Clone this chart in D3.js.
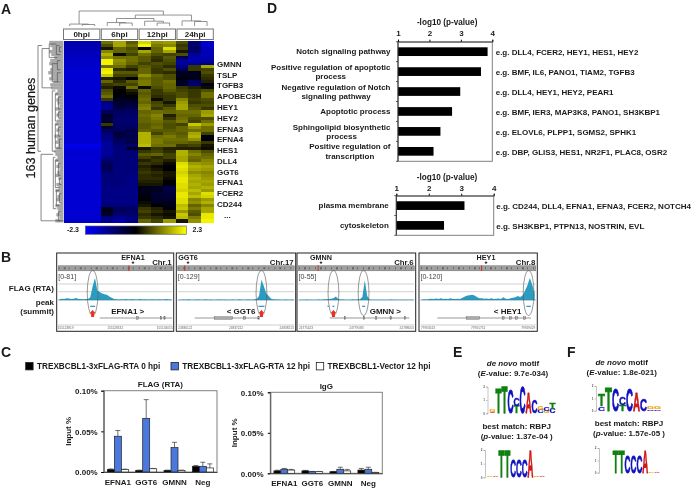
<!DOCTYPE html>
<html>
<head>
<meta charset="utf-8">
<style>
html, body { margin: 0; padding: 0; background: #fff; }
svg { display: block; filter: blur(.3px); }
text { font-family: "Liberation Sans", Arial, sans-serif; font-weight: bold; fill: #1a1a1a; }
</style>
<script src="https://cdn.jsdelivr.net/npm/d3@7/dist/d3.min.js"></script>
</head>
<body>
<script>
// ---- panel A data ----
var hpiGroups = ["0hpi", "6hpi", "12hpi", "24hpi"];
var heatGenes = ["GMNN", "TSLP", "TGFB3", "APOBEC3H", "HEY1", "HEY2", "EFNA3", "EFNA4", "HES1", "DLL4", "GGT6", "EFNA1", "FCER2", "CD244", "..."];
var colorTicks = [-2.3, 2.3];
// 0hpi columns are nearly flat, one value per row block
var zeroHpi = [-1.6,-1.6,-1.6,-1.7,-1.7,-1.7,-1.8,-1.8,-1.8,-1.9,-1.9,-1.9,-1.9,-1.9,-1.9,-1.9,-1.9,-1.9,-1.9,-1.9,
  -1.9,-1.9,-1.9,-1.9,-1.9,-1.9,-1.9,-1.9,-1.9,-1.9,-1.9,-1.9,-1.9,-1.9,-2.1,-2.0,-1.9,-1.9,-1.9,-1.9,
  -1.9,-1.9,-1.9,-1.9,-1.9,-1.9,-1.9,-1.9,-1.9,-1.9,-1.9,-1.9,-1.9,-1.9,-1.9,-1.9,-1.9,-1.9,-1.9,-1.8];
// 6hpi x3, 12hpi x3, 24hpi x3
var heatRows = [
  [1.0,1.5,0.8,1.9,1.3,1.4,0.7,-1.0,-1.8],
  [0.7,1.5,1.0,2.2,1.1,1.2,0.5,-1.0,-1.8],
  [0.2,0.9,0.7,0.0,0.9,2.0,0.6,-0.9,-1.7],
  [1.2,0.9,0.8,1.5,0.9,1.5,0.2,-1.0,-1.6],
  [1.6,0.1,0.6,1.0,0.7,0.6,0.7,-1.4,-1.7],
  [1.3,1.0,1.0,0.8,0.5,0.8,-0.7,-1.5,-1.6],
  [2.2,1.3,1.0,0.8,0.4,0.7,-1.4,-1.6,-1.5],
  [2.2,1.2,0.9,0.6,0.7,0.6,-1.4,-1.4,-1.2],
  [1.0,1.0,0.6,0.8,0.6,0.4,-1.2,0.5,1.5],
  [2.1,0.4,0.3,0.9,0.5,0.7,-0.8,0.5,0.6],
  [2.2,0.8,0.8,0.9,0.5,0.4,-0.3,-0.2,0.7],
  [1.8,0.6,0.6,1.3,0.9,0.7,-0.3,-0.3,0.5],
  [0.3,0.2,0.0,1.0,0.8,0.7,-0.1,-0.2,0.4],
  [0.9,0.4,0.8,1.1,0.8,1.0,-0.3,-0.9,0.3],
  [0.5,0.6,0.6,1.1,0.8,0.9,-0.4,-1.0,-0.3],
  [0.3,0.1,1.0,0.1,0.7,0.9,0.5,0.3,0.1],
  [0.7,-0.1,0.3,0.9,0.5,0.8,0.6,0.5,0.7],
  [0.8,0.0,0.1,0.8,0.5,0.6,0.7,0.5,1.0],
  [1.0,-0.1,-0.1,0.9,0.4,0.5,0.7,0.5,1.0],
  [0.5,-0.3,-0.2,1.0,0.1,0.5,1.2,0.6,0.7],
  [-1.2,-0.4,-0.4,0.9,0.6,0.2,1.4,0.5,0.6],
  [-1.3,-0.5,-0.6,1.1,0.7,0.5,1.5,0.7,0.7],
  [-1.3,-0.6,-0.7,1.2,0.5,0.8,1.5,0.8,0.5],
  [-0.8,-0.9,-0.9,0.9,1.0,0.9,1.0,1.0,1.4],
  [-0.4,-0.9,-0.9,1.0,1.2,0.3,0.9,0.9,1.5],
  [-0.5,-1.0,-1.0,0.9,1.1,0.5,1.0,0.7,0.7],
  [-0.4,-1.0,-1.0,0.9,1.0,0.8,1.1,0.6,1.0],
  [0.5,-0.9,-0.9,0.8,0.9,0.7,0.6,1.8,1.4],
  [-0.4,-0.9,-0.9,0.8,1.0,0.7,0.9,1.3,1.0],
  [-0.9,-0.8,-0.6,0.9,0.8,0.8,0.9,1.0,1.0],
  [-1.0,-0.5,-0.8,1.6,0.6,0.9,0.8,1.5,0.6],
  [-1.2,-0.6,-0.6,1.6,1.0,1.1,0.9,1.6,-0.2],
  [-1.2,-0.8,-0.8,1.6,1.1,1.0,1.0,1.3,-0.1],
  [-1.4,-0.9,-0.6,1.6,1.1,0.9,0.9,0.8,0.5],
  [-1.4,-1.0,-1.0,1.7,1.0,1.0,0.5,0.6,0.2],
  [-1.4,-1.1,-0.3,0.2,0.5,0.3,0.3,0.3,0.1],
  [-1.4,-1.1,-1.1,0.5,0.6,0.4,1.6,1.0,0.7],
  [-1.4,-1.1,-1.1,0.8,0.9,0.6,1.6,1.2,0.9],
  [-1.2,-1.1,-1.1,0.6,0.4,0.6,1.5,1.0,1.0],
  [-1.0,-1.1,-1.1,0.3,0.5,0.3,1.5,0.9,1.2],
  [-0.8,-1.1,-1.1,0.5,0.4,0.1,2.0,1.4,1.3],
  [-0.7,-1.1,-1.1,0.3,0.1,-0.1,2.1,1.6,1.5],
  [-0.8,-1.1,-1.1,0.4,0.2,0.0,2.0,1.5,1.4],
  [-1.0,-1.1,-1.1,0.5,0.4,0.2,1.9,1.3,1.2],
  [-1.1,-1.1,-1.2,0.4,0.3,0.2,2.0,1.5,1.3],
  [-1.1,-1.1,-1.2,0.4,0.4,0.1,2.1,1.6,1.4],
  [-1.1,-1.1,-1.2,0.3,0.3,0.0,2.1,1.5,1.5],
  [-1.1,-1.1,-1.2,0.2,0.2,-0.1,2.0,1.6,1.4],
  [-1.2,-1.2,-1.2,-0.2,-0.3,-0.6,2.0,1.5,1.6],
  [-1.2,-1.2,-1.2,-0.2,-0.3,-0.6,1.9,1.7,1.4],
  [-1.2,-1.2,-1.2,-0.2,-0.5,-0.5,2.1,1.5,2.0],
  [-1.2,-1.2,-1.2,-0.1,-0.4,-0.5,2.1,1.7,1.9],
  [-1.2,-1.2,-1.2,-0.1,-0.4,-0.4,2.0,1.2,1.4],
  [-1.2,-1.2,-1.2,0.1,-0.3,-0.2,2.0,1.3,1.6],
  [-1.1,-1.1,-1.1,0.2,0.0,-0.2,1.7,0.9,1.2],
  [-0.3,-0.8,-0.9,0.5,0.3,-0.1,1.8,1.1,1.5],
  [-0.2,-0.8,-0.9,0.6,0.4,0.2,1.4,0.8,1.5],
  [-0.4,-1.0,-1.0,0.4,0.2,0.1,1.8,0.7,2.1],
  [-1.1,-1.3,-1.1,0.5,0.4,0.2,1.7,1.1,2.1],
  [-1.3,-1.5,-1.2,0.9,0.6,1.4,0.2,1.3,2.2]
];
// column tree: [height, left, right], leaves are column numbers
var columnTree = [1, [0.13, 0, [0.1, 1, 2]],
  [0.73, [0.5, [0.23, 3, [0.2, 4, 5]], [0.32, 6, [0.2, 7, 8]]], [0.34, 9, [0.3, 10, 11]]]];
// row brackets: depth, first row, last row, depth of first child, depth of last child
var rowLinks = [
  [25,1,36,21,22],[22,37,59,10,0],[21,2,15,14,11],[14,0.5,5,7,6],[11,7,13,6,6],
  [7,1,4,4,3],[6,6,9,3,3],[6,10,13,3,4],[4,1.5,3,2,2],
  [11,16,36,8,8],[8,17,26,5,5],[8,27,35,5,4],[5,18,22,3,3],[5,23,25,3,3],[5,28,31,3,3],[4,32,35,2,2],
  [10,38,55,8,7],[8,39,48,5,4],[7,49,54,4,4],[5,40,44,3,3],[4,45,47,2,2],[4,50,53,2,2],[5,56,59,3,3]
];
var rowLeaf = [14,13,11,14,12,9,13,14,11,13,15,12,14,10,13,12,6,8,5,7,
  6,4,8,5,7,4,6,8,5,7,4,9,6,8,5,7,9,8,6,8,
  5,7,4,6,8,5,3,7,5,8,4,6,7,3,8,6,5,7,4,8];

// ---- panel B data ----
var trackGenes = ["EFNA1", "GGT6", "GMNN", "HEY1"];
var trackChroms = ["Chr.1", "Chr.17", "Chr.6", "Chr.8"];
var trackRanges = ["[0-81]", "[0-129]", "[0-55]", "[0-120]"];
var trackStrands = ["EFNA1 >", "< GGT6", "GMNN >", "< HEY1"];
var trackCoords = [
  ["155123819", "155128532", "155134055"],
  ["24836122", "24837222", "24838213"],
  ["24775423", "24779083", "24788053"],
  ["79763413", "79765751", "79769029"]
];
var signalEFNA1 = [.03,.06,.05,.08,.07,.04,.06,.09,.05,.04,.03,.04,.05,.12,.62,1,.42,.36,.3,.26,.24,.16,.1,.05,.03,.02,.03,.02,.04,.02,.03,.03,.02,.02,.04,.02,.03,.02,.02,.03,.02,.02,.03,.02,.02,.04,.02,.03];
var signalGGT6 = [.01,.01,.02,.01,.03,.01,.01,.02,.02,.01,.01,.03,.01,.02,.01,.01,.02,.02,.01,.02,.01,.01,.02,.01,.01,.03,.01,.01,.02,.02,.01,.03,.05,.18,.92,.62,.3,.18,.06,.03,.02,.02,.01,.01,.02,.01,.01,.02];
var signalGMNN = [.01,.01,.01,.02,.01,.01,.01,.01,.02,.01,.03,.03,.04,.06,.08,.16,.05,.02,.02,.01,.01,.01,.03,.01,.03,.03,.14,.9,.18,.02,.01,.01,.01,.01,.01,.01,.01,.01,.02,.01,.01,.01,.01,.01,.01,.01,.01,.01];
var signalHEY1 = [.01,.03,.02,.05,.06,.04,.07,.05,.08,.04,.06,.05,.08,.05,.04,.06,.04,.1,.16,.2,.22,.24,.2,.14,.08,.08,.06,.07,.05,.08,.05,.06,.07,.05,.12,.06,.05,.08,.1,.12,.18,.14,.2,.42,.66,1,.7,.3];
var trackSignals = [signalEFNA1, signalGGT6, signalGMNN, signalHEY1];
// bin numbers of the circled peaks, blue summit dashes [bin, length], red arrows
var trackPeaks = [[14.5], [34.5], [14.5, 27], [45]];
var trackDashes = [[[14.5, 5]], [[34.5, 6]], [[12.3, 1.5], [14.5, 2], [27, 3]], [[45, 4.5]]];
var trackArrows = [[14.5], [34.5], [14.5], []];
var trackIdeoMark = [.62, .06, .17, .53];
// gene model: start bin, end bin, exons as [start, end]
var modelSpans = [[17.5, 48], [7, 33], [13, 46], [7, 46]];
var modelExons = [
  [[33, 33.8], [43, 43.6], [44.5, 45]],
  [[15, 22.5], [27, 28], [33, 33.6]],
  [[19, 19.5], [27, 27.5], [32, 32.5], [38, 38.5], [44, 44.5]],
  [[19, 24.5], [34, 34.8], [37, 37.8], [39.5, 40.3], [43, 43.8]]
];

// ---- panel C data ----
var chipGenes = ["EFNA1", "GGT6", "GMNN", "Neg"];
var chipSeries = ["TREXBCBL1-3xFLAG-RTA 0 hpi", "TREXBCBL1-3xFLAG-RTA 12 hpi", "TREXBCBL1-Vector 12 hpi"];
var chipColors = ["#000000", "#4a78dc", "#ffffff"];
var chipTicks = [0, 0.05, 0.1];
var flagValues = [[.003,.002,.002,.007], [.044,.066,.03,.007], [.003,.004,.002,.005]];
var flagErrors = [[.0008,.0003,.0003,.001], [.007,.023,.0065,.005], [.0005,.0004,.0003,.005]];
var iggValues = [[.003,.003,.002,.004], [.005,.002,.005,.005], [.004,.002,.003,.001]];
var iggErrors = [[.0008,.0006,.0003,.002], [.001,.0003,.0025,.0025], [.0008,.0003,.0018,.0002]];

// ---- panel D data ----
var goTerms = [["Notch signaling pathway"], ["Positive regulation of apoptotic", "process"],
  ["Negative regulation of Notch", "signaling pathway"], ["Apoptotic process"],
  ["Sphingolipid biosynthetic", "process"], ["Positive regulation of", "transcription"]];
var goValues = [3.85, 3.64, 2.98, 2.72, 2.35, 2.13];
var goExamples = ["e.g. DLL4, FCER2, HEY1, HES1, HEY2", "e.g. BMF, IL6, PANO1, TIAM2, TGFB3",
  "e.g. DLL4, HEY1, HEY2, PEAR1", "e.g. BMF, IER3, MAP3K8, PANO1, SH3KBP1",
  "e.g. ELOVL6, PLPP1, SGMS2, SPHK1", "e.g. DBP, GLIS3, HES1, NR2F1, PLAC8, OSR2"];
var ccTerms = [["plasma membrane"], ["cytoskeleton"]];
var ccValues = [3.1, 2.47];
var ccExamples = ["e.g. CD244, DLL4, EFNA1, EFNA3, FCER2, NOTCH4", "e.g. SH3KBP1, PTPN13, NOSTRIN, EVL"];
var pTicks = [1, 2, 3, 4];

// ---- panels E, F data: bits per letter, bottom to top ----
var logoE1 = [[["A",.1],["G",.15]], [["T",1.85]], [["T",1.95]], [["C",1.75]], [["T",.55],["C",.6]], [["C",1.95]], [["A",1.6]], [["C",1.0]], [["C",.25],["G",.3]], [["G",.2],["C",.3]], [["C",.35],["T",.5]]];
var logoE2 = [[["G",.04]], [["A",.04]], [["T",1.9]], [["T",1.9]], [["C",1.3]], [["C",1.3]], [["C",1.3]], [["A",1.9]], [["G",.1]], [["A",.05]]];
var logoF1 = [[["C",.35],["T",.95]], [["T",1.9]], [["C",1.8]], [["T",.5],["C",.6]], [["C",1.85]], [["A",1.5]], [["C",.95]], [["C",.12],["G",.2]], [["C",.1],["G",.16]]];
var logoF2 = [[["G",.03]], [["A",.03]], [["T",1.85]], [["T",1.85]], [["C",1.35]], [["C",1.35]], [["C",1.35]], [["A",1.85]], [["G",.1]], [["A",.06]]];
var logoColors = {A: "#d01818", C: "#1010c0", G: "#e8a010", T: "#108010"};
var logoAdvance = {A: .722, C: .722, G: .778, T: .611};
var logoTicks = [0, 1, 2];

var svg = d3.select("body").append("svg").attr("width", 696).attr("height", 490);

function label(g, x, y, s, size, anchor) {
  return g.append("text").attr("x", x).attr("y", y).attr("dy", ".35em")
    .attr("text-anchor", anchor || "start").style("font-size", size + "px").text(s);
}

label(svg, 1, 9, "A", 14); label(svg, 1, 257, "B", 14); label(svg, 1, 352, "C", 14);
label(svg, 267, 8, "D", 14); label(svg, 453, 352, "E", 14); label(svg, 567, 352, "F", 14);

// ---- A: heatmap ----
var heatX = d3.scaleBand().domain(d3.range(12)).range([63.5, 213.3]);
var heatY = d3.scaleBand().domain(d3.range(heatRows.length)).range([41, 222.3]);
var heatColor = d3.scaleLinear().domain([-2.3, 0, 2.3]).range(["#0000ff", "#000000", "#ffff00"]);
var groupX = d3.scaleBand().domain(hpiGroups).range([63.5, 213.3]).paddingInner(.04);

var heat = svg.append("g").attr("shape-rendering", "crispEdges");
heatRows.forEach(function(row, r) {
  var full = [zeroHpi[r], zeroHpi[r], zeroHpi[r]].concat(row);
  heat.selectAll(null).data(full).enter().append("rect")
    .attr("x", function(d, c) { return heatX(c); })
    .attr("y", heatY(r))
    .attr("width", heatX.bandwidth() + .6)
    .attr("height", heatY.bandwidth() + .6)
    .attr("fill", function(d) { return heatColor(d); });
});

svg.selectAll(".grp").data(hpiGroups).enter().append("rect").attr("class", "grp")
  .attr("x", function(d) { return groupX(d); }).attr("y", 29)
  .attr("width", groupX.bandwidth()).attr("height", 10.5)
  .attr("fill", "#fff").attr("stroke", "#777").attr("stroke-width", 1);
svg.selectAll(".grpt").data(hpiGroups).enter().append("text").attr("class", "grpt")
  .attr("x", function(d) { return groupX(d) + groupX.bandwidth() / 2; }).attr("y", 34.5).attr("dy", ".35em")
  .attr("text-anchor", "middle").style("font-size", "8px").text(function(d) { return d; });

// column dendrogram
var treeY = d3.scaleLinear().domain([0, 1]).range([26, 11]);
var treeLayer = svg.append("g").attr("fill", "none").attr("stroke", "#777").attr("stroke-width", .8);
function drawTree(n) {
  if (typeof n === "number") return { x: heatX(n) + heatX.bandwidth() / 2, h: 0 };
  var a = drawTree(n[1]), b = drawTree(n[2]);
  treeLayer.append("path").attr("d", "M" + a.x + "," + treeY(a.h) + "V" + treeY(n[0]) + "H" + b.x + "V" + treeY(b.h));
  return { x: (a.x + b.x) / 2, h: n[0] };
}
drawTree(columnTree);

// row dendrogram
var depthX = d3.scaleLinear().domain([0, 25]).range([63.5, 38]);
var rowPos = function(r) { return heatY(0) + (r + .5) * heatY.step(); };
svg.append("g").selectAll("line").data(rowLeaf).enter().append("line")
  .attr("x1", function(d) { return depthX(d); }).attr("x2", depthX(0))
  .attr("y1", function(d, i) { return rowPos(i); }).attr("y2", function(d, i) { return rowPos(i); })
  .attr("stroke", "#a8a8a8").attr("stroke-width", 3.3);
svg.append("g").selectAll("path").data(rowLinks).enter().append("path")
  .attr("fill", "none").attr("stroke", "#555").attr("stroke-width", .7)
  .attr("d", function(d) {
    return "M" + depthX(d[3]) + "," + rowPos(d[1]) + "H" + depthX(d[0]) + "V" + rowPos(d[2]) + "H" + depthX(d[4]);
  });

// gene labels
var geneY = d3.scalePoint().domain(heatGenes).range([64, 215]);
svg.selectAll(".hg").data(heatGenes).enter().append("text").attr("class", "hg")
  .attr("x", function(d) { return d === "..." ? 224 : 217; }).attr("y", function(d) { return geneY(d); }).attr("dy", ".35em")
  .style("font-size", "8px").text(function(d) { return d; });

label(svg, 0, 0, "163 human genes", 12.6, "middle").attr("x", null).attr("y", null).attr("dy", null)
  .attr("transform", "translate(34.5,128) rotate(-90)").style("font-weight", "normal").style("stroke", "#1a1a1a").style("stroke-width", .25);

// colour bar
var grad = svg.append("defs").append("linearGradient").attr("id", "cbar");
grad.selectAll("stop").data(heatColor.domain()).enter().append("stop")
  .attr("offset", function(d, i) { return i / 2; }).attr("stop-color", function(d) { return heatColor(d); });
var barX = d3.scaleLinear().domain(colorTicks).range([85.3, 186.3]);
svg.append("rect").attr("x", barX(-2.3)).attr("y", 226).attr("width", barX(2.3) - barX(-2.3)).attr("height", 8.3)
  .attr("fill", "url(#cbar)").attr("stroke", "#666").attr("stroke-width", .7);
label(svg, 79, 230, "-2.3", 7, "end");
label(svg, 192.5, 230, "2.3", 7);

// ---- B: tracks ----
var trackBox = [[56.7, 173.7], [176.3, 295.7], [297, 415.7], [419, 537.3]];
var trackTitleX = [133, 188, 321, 486];
var areaY = d3.scaleLinear().domain([0, 1]).range([300, 278]);
svg.selectAll(".ll").data([["FLAG (RTA)", 288], ["peak", 302], ["(summit)", 311]]).enter().append("text").attr("class", "ll")
  .attr("x", 54).attr("y", function(d) { return d[1]; }).attr("dy", ".35em").attr("text-anchor", "end")
  .style("font-size", "8px").text(function(d) { return d[0]; });

trackGenes.forEach(function(gene, t) {
  var box = trackBox[t], x0 = box[0], x1 = box[1];
  var g = svg.append("g");
  var bins = trackSignals[t].length;
  var binX = d3.scaleLinear().domain([0, bins]).range([x0 + 1.5, x1 - 1.5]);

  g.append("rect").attr("x", x0).attr("y", 253).attr("width", x1 - x0).attr("height", 78.3)
    .attr("fill", "#fff").attr("stroke", "#222").attr("stroke-width", 1);

  // ideogram
  g.append("rect").attr("x", x0 + 1.5).attr("y", 265.8).attr("width", x1 - x0 - 3).attr("height", 5)
    .attr("fill", "#a0a0a0").attr("stroke", "#666").attr("stroke-width", .5);
  g.append("line").attr("x1", x0 + 2).attr("x2", x1 - 2).attr("y1", 268.3).attr("y2", 268.3)
    .attr("stroke", "#666").attr("stroke-width", 2).attr("stroke-dasharray", "1 4 2 3 1 5");
  var ideoX = d3.scaleLinear().domain([0, 1]).range([x0 + 1.5, x1 - 1.5]);
  g.append("line").attr("x1", ideoX(trackIdeoMark[t])).attr("x2", ideoX(trackIdeoMark[t]))
    .attr("y1", 265.5).attr("y2", 271).attr("stroke", "#c83030").attr("stroke-width", 1);
  g.append("path").attr("d", d3.symbol().type(d3.symbolStar).size(4))
    .attr("transform", "translate(" + trackTitleX[t] + ",262.5)").attr("fill", "#222");

  label(g, trackTitleX[t], 257, gene, 7.2, "middle");
  label(g, x1 - 2, 262, trackChroms[t], 7.8, "end");
  label(g, x0 + 1.5, 277, trackRanges[t], 7).style("font-weight", "normal").style("fill", "#444");

  [284, 291.7].forEach(function(yy) {
    g.append("line").attr("x1", x0 + 1.5).attr("x2", x1 - 1.5).attr("y1", yy).attr("y2", yy).attr("stroke", "#bbb").attr("stroke-width", .7);
  });

  g.append("path").datum(trackSignals[t])
    .attr("fill", "#2a9cc0")
    .attr("d", d3.area().x(function(d, i) { return binX(i + .5); }).y0(areaY(0)).y1(function(d) { return areaY(d); }));
  g.append("line").attr("x1", x0 + 1.5).attr("x2", x1 - 1.5).attr("y1", areaY(0)).attr("y2", areaY(0)).attr("stroke", "#3a7f98").attr("stroke-width", .7);

  // ellipses, dashes, arrows
  trackPeaks[t].forEach(function(p) {
    g.append("ellipse").attr("cx", binX(p)).attr("cy", 293).attr("rx", 5.4).attr("ry", 22.5)
      .attr("fill", "none").attr("stroke", "#555").attr("stroke-width", .6);
  });
  trackDashes[t].forEach(function(p) {
    g.append("line").attr("x1", binX(p[0]) - p[1] / 2).attr("x2", binX(p[0]) + p[1] / 2).attr("y1", 306.3).attr("y2", 306.3).attr("stroke", "#1d86c4").attr("stroke-width", 1.1);
  });
  trackArrows[t].forEach(function(p) {
    g.append("path").attr("transform", "translate(" + binX(p) + ",310)").attr("fill", "#ec3020")
      .attr("d", "M0,0L3,3.2H1.5V7H-1.5V3.2H-3Z");
  });

  label(g, d3.mean(box) + [12.5, 5, 29, 29.5][t], 311.5, trackStrands[t], 8, "middle");

  // gene model
  g.append("line").attr("x1", binX(modelSpans[t][0])).attr("x2", binX(modelSpans[t][1])).attr("y1", 318).attr("y2", 318)
    .attr("stroke", "#555").attr("stroke-width", .6);
  g.selectAll(".exon").data(modelExons[t]).enter().append("rect").attr("class", "exon")
    .attr("x", function(d) { return binX(d[0]); }).attr("y", 316.8)
    .attr("width", function(d) { return binX(d[1]) - binX(d[0]); }).attr("height", 2.4)
    .attr("fill", "#aaa").attr("stroke", "#555").attr("stroke-width", .4);

  // coordinate ruler
  g.append("line").attr("x1", x0 + 1.5).attr("x2", x1 - 1.5).attr("y1", 325).attr("y2", 325).attr("stroke", "#999").attr("stroke-width", .5);
  var rulerX = d3.scalePoint().domain(trackCoords[t]).range([x0 + 9, x1 - 9]);
  g.selectAll(".rt").data(trackCoords[t]).enter().append("text").attr("class", "rt")
    .attr("x", function(d) { return rulerX(d); }).attr("y", 328.8).attr("text-anchor", "middle")
    .style("font-size", "3.2px").style("font-weight", "normal").style("fill", "#666").text(function(d) { return d; });
});

// ---- C: bars ----
var legendX = [25.7, 171, 316.3];
chipSeries.forEach(function(s, i) {
  svg.append("rect").attr("x", legendX[i]).attr("y", 362.5).attr("width", 7.4).attr("height", 7.4)
    .attr("fill", chipColors[i]).attr("stroke", "#222").attr("stroke-width", .8);
  label(svg, legendX[i] + 11.3, 366, s, 8.2);
});

function chipChart(title, values, errors, left, right, top, bottom, tickX, titleY) {
  var g = svg.append("g");
  var x = d3.scaleBand().domain(chipGenes).range([left, right]);
  var x1 = d3.scaleBand().domain(d3.range(3)).range([0, x.bandwidth()]).paddingOuter(.52);
  var y = d3.scaleLinear().domain([0, 0.1]).range([bottom, top]);

  g.append("rect").attr("x", left).attr("y", top).attr("width", right - left).attr("height", bottom - top)
    .attr("fill", "none").attr("stroke", "#808080").attr("stroke-width", 1);

  values.forEach(function(v, s) {
    g.selectAll(null).data(chipGenes).enter().append("line")
      .attr("x1", function(d) { return x(d) + x1(s) + x1.bandwidth() / 2; })
      .attr("x2", function(d) { return x(d) + x1(s) + x1.bandwidth() / 2; })
      .attr("y1", function(d, i) { return y(v[i]); })
      .attr("y2", function(d, i) { return y(v[i] + errors[s][i]); })
      .attr("stroke", "#333").attr("stroke-width", .7);
    g.selectAll(null).data(chipGenes).enter().append("line")
      .attr("x1", function(d) { return x(d) + x1(s) + x1.bandwidth() / 2 - 2.5; })
      .attr("x2", function(d) { return x(d) + x1(s) + x1.bandwidth() / 2 + 2.5; })
      .attr("y1", function(d, i) { return y(v[i] + errors[s][i]); })
      .attr("y2", function(d, i) { return y(v[i] + errors[s][i]); })
      .attr("stroke", "#333").attr("stroke-width", .7);
    g.selectAll(null).data(chipGenes).enter().append("rect")
      .attr("x", function(d) { return x(d) + x1(s); })
      .attr("width", x1.bandwidth())
      .attr("y", function(d, i) { return y(v[i]); })
      .attr("height", function(d, i) { return bottom - y(v[i]); })
      .attr("fill", chipColors[s]).attr("stroke", "#222").attr("stroke-width", .7);
  });

  var yAxis = d3.axisLeft(y).tickValues(chipTicks).tickSize(2.5).tickFormat(function(d) { return d3.format(".2f")(d) + "%"; });
  var ya = g.append("g").attr("transform", "translate(" + left + ",0)").call(yAxis);
  ya.select(".domain").attr("stroke", "#555");
  ya.selectAll("text").style("font-size", "8px").attr("x", -(left - tickX)).attr("dy", ".35em");

  var xa = g.append("g").attr("transform", "translate(0," + bottom + ")")
    .call(d3.axisBottom(x).tickSize(0).tickPadding(7));
  xa.select(".domain").attr("stroke", "#444");
  xa.selectAll("text").style("font-size", "8px");

  label(g, (left + right) / 2, titleY, title, 8, "middle");
  label(g, 0, 0, "Input %", 8, "middle").attr("x", null).attr("y", null).attr("dy", null)
    .attr("transform", "translate(" + (left - 33) + "," + ((top + bottom) / 2 + 0) + ") rotate(-90)");
}
chipChart("FLAG (RTA)", flagValues, flagErrors, 103.7, 217, 390.7, 472, 97.7, 384);
chipChart("IgG", iggValues, iggErrors, 270.3, 382.3, 392.3, 473.3, 263.5, 385.7);

// ---- D: enrichment bars ----
function goChart(terms, values, examples, left, right, top, bottom, titleY, tickY, exX) {
  var g = svg.append("g");
  var x = d3.scaleLinear().domain([1, 4]).range([left, right]);
  var y = d3.scaleBand().domain(d3.range(values.length)).range([top, bottom]);
  var bh = 8.7;

  g.append("rect").attr("x", left).attr("y", top).attr("width", right - left).attr("height", bottom - top)
    .attr("fill", "none").attr("stroke", "#808080").attr("stroke-width", 1);
  g.selectAll(".b").data(values).enter().append("rect").attr("class", "b")
    .attr("x", left).attr("y", function(d, i) { return y(i) + y.bandwidth() / 2 - bh / 2; })
    .attr("width", function(d) { return x(d) - left; }).attr("height", bh).attr("fill", "#000");

  g.append("line").attr("x1", left).attr("x2", left).attr("y1", top).attr("y2", bottom).attr("stroke", "#333");
  g.selectAll(".t").data(d3.range(values.length + 1)).enter().append("line").attr("class", "t")
    .attr("x1", left - 2).attr("x2", left)
    .attr("y1", function(d) { return top + d * y.step(); }).attr("y2", function(d) { return top + d * y.step(); })
    .attr("stroke", "#333").attr("stroke-width", .8);

  var xa = g.append("g").attr("transform", "translate(0," + top + ")")
    .call(d3.axisTop(x).tickValues(pTicks).tickSize(2).tickPadding(tickY).tickFormat(d3.format("d")));
  xa.select(".domain").attr("stroke", "#555");
  xa.selectAll("text").style("font-size", "8px");

  label(g, (left + right) / 2 + 2, titleY, "-log10 (p-value)", 8.2, "middle");

  terms.forEach(function(lines, i) {
    var cy = y(i) + y.bandwidth() / 2;
    var widest = 0;
    var nodes = lines.map(function(s, k) {
      return label(g, left - 7.5, cy + (k - (lines.length - 1) / 2) * 9.3, s, 8, "middle");
    });
    nodes.forEach(function(n) { widest = Math.max(widest, n.node().getComputedTextLength()); });
    // multi line terms are centred on their own longest line
    nodes.forEach(function(n) { n.attr("x", left - 7.5 - widest / 2); });
    label(g, exX, cy + .5, examples[i], 8);
  });
}
goChart(goTerms, goValues, goExamples, 398, 492.3, 41.7, 161.3, 22, 3.5, 495.7);
goChart(ccTerms, ccValues, ccExamples, 396.3, 493.7, 195.7, 235.3, 177, 3, 496.3);

// ---- E, F: motifs ----
function drawLogo(columns, left, colW, base, top) {
  var g = svg.append("g");
  var x = d3.scaleBand().domain(d3.range(columns.length)).range([left, left + colW * columns.length]);
  var y = d3.scaleLinear().domain([0, 2]).range([base, top]);
  columns.forEach(function(col, c) {
    var sum = 0;
    col.forEach(function(l) {
      var bits = l[1], size = 20;
      var sx = x.bandwidth() / (logoAdvance[l[0]] * size);
      var sy = (y(sum) - y(sum + bits)) / (size * .72);
      g.append("text").attr("transform", "translate(" + x(c) + "," + y(sum) + ") scale(" + sx + "," + sy + ")")
        .style("font-size", size + "px").style("fill", logoColors[l[0]])
        .style("stroke", logoColors[l[0]]).style("stroke-width", .7).text(l[0]);
      sum += bits;
    });
  });
  var ya = g.append("g").attr("transform", "translate(" + (left - 2) + ",0)")
    .call(d3.axisLeft(y).tickValues(logoTicks).tickSize(1.5).tickPadding(1).tickFormat(d3.format("d")));
  ya.select(".domain").attr("stroke", "#888").attr("stroke-width", .5);
  ya.selectAll("line").attr("stroke", "#888").attr("stroke-width", .5);
  ya.selectAll("text").style("font-size", "3px").style("fill", "#555");
}
drawLogo(logoE1, 489.5, 6, 413.3, 386.7);
drawLogo(logoE2, 487, 5.8, 477.3, 450);
drawLogo(logoF1, 598, 7, 410.7, 386);
drawLogo(logoF2, 601, 5.9, 472.7, 448);

function motifText(cx, y1, ev, bx, y2, pv) {
  var a = label(svg, cx, y1, null, 8, "middle");
  a.append("tspan").style("font-style", "italic").text("de novo");
  a.append("tspan").text(" motif");
  var b = label(svg, cx, y1 + 10, null, 8, "middle");
  b.append("tspan").text("(");
  b.append("tspan").style("font-style", "italic").text("E");
  b.append("tspan").text("-value: " + ev + ")");
  label(svg, bx, y2, "best match: RBPJ", 8, "middle");
  var c = label(svg, bx, y2 + 10.3, null, 8, "middle");
  c.append("tspan").text("(");
  c.append("tspan").style("font-style", "italic").text("p");
  c.append("tspan").text("-value: " + pv + " )");
}
motifText(513, 363, "9.7e-034", 516.7, 425.7, "1.37e-04");
motifText(621.7, 361.7, "1.8e-021", 629, 423, "1.57e-05");
</script>
</body>
</html>
